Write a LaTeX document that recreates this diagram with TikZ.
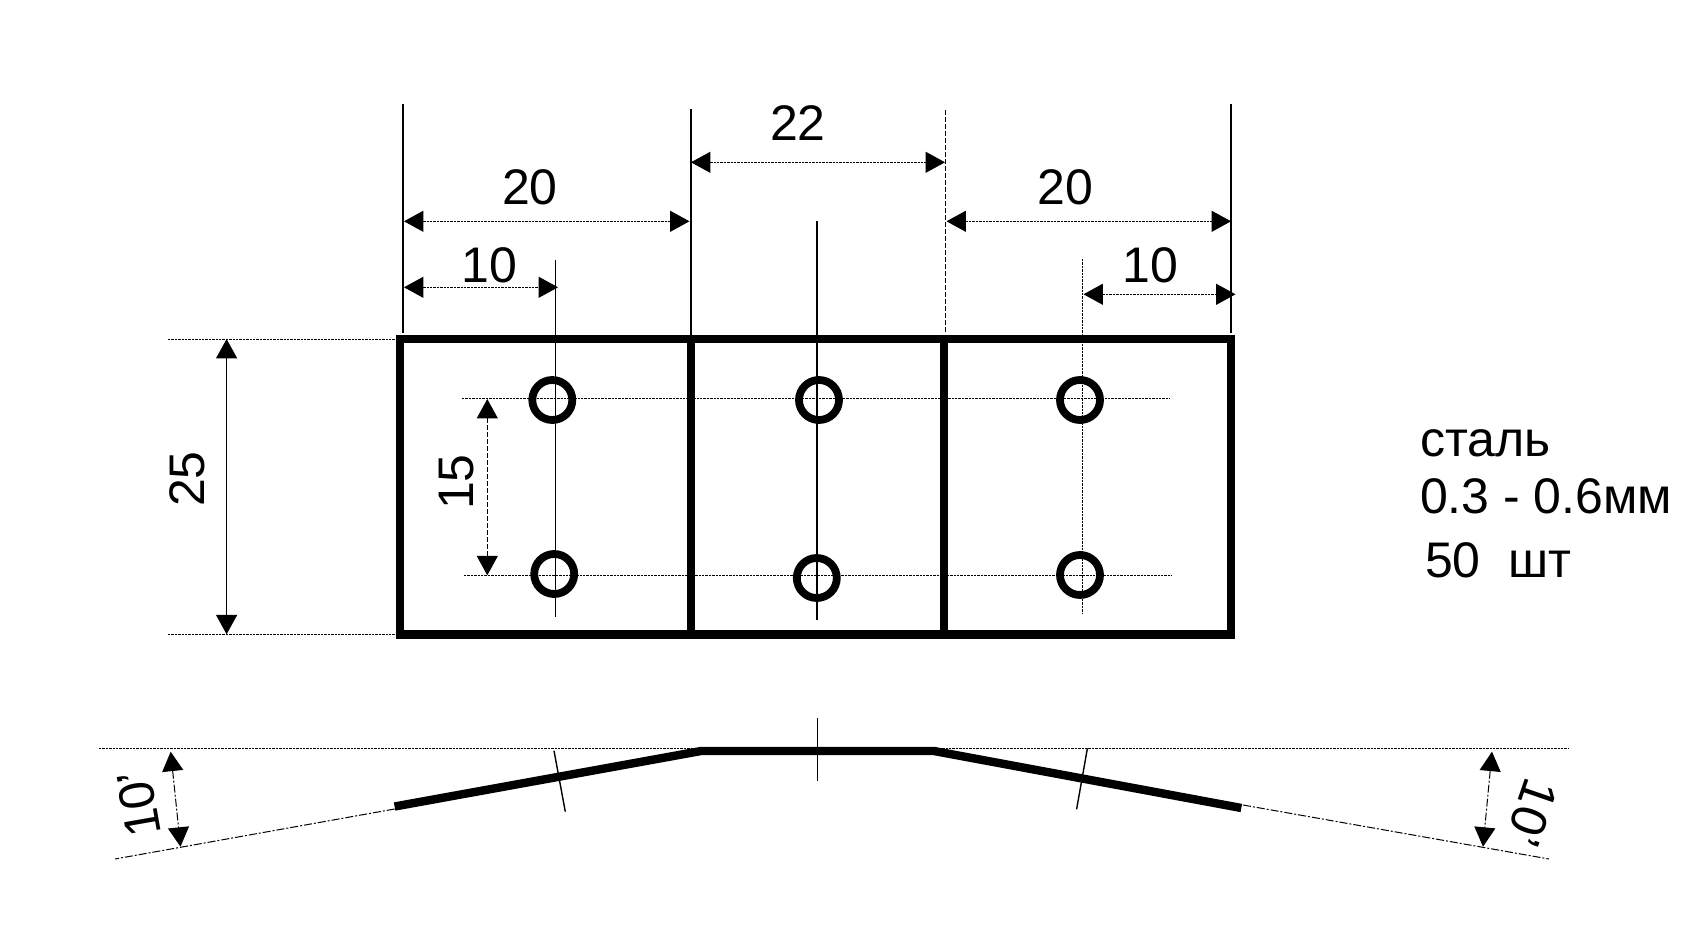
\documentclass[tikz,border=0pt]{standalone}
\usepackage{fontspec}
\setmainfont{Liberation Sans}
\usetikzlibrary{arrows.meta}
\tikzset{
  thinline/.style={line width=0.7pt,black},
  fineline/.style={line width=0.5pt,black,dash pattern=on 1.2pt off 0.5pt},
  dashline/.style={line width=0.5pt,black,dash pattern=on 2.5pt off 1pt},
  chainline/.style={line width=0.5pt,black,dash pattern=on 4pt off 1pt on 1pt off 1pt},
  heavy/.style={line width=4.3pt,black,line join=miter},
  dimtips/.style={{Triangle[length=9.7pt,width=10.5pt]}-{Triangle[length=9.7pt,width=10.5pt]}},
  hole/.style={circle,draw=black,line width=3.9pt,minimum size=20pt,inner sep=0pt,outer sep=0pt},
  lbl/.style={inner sep=0pt,outer sep=0pt,font=\fontsize{25}{30}\selectfont},
  note/.style={inner sep=0pt,outer sep=0pt,anchor=base west,font=\fontsize{25}{30}\selectfont},
}
\begin{document}
\begin{tikzpicture}[x=0.5pt,y=-0.5pt]
\useasboundingbox (0,0) rectangle (1699,931);
% key points of the plate
\coordinate (TL) at (400,339);
\coordinate (TR) at (1231,339);
\coordinate (BL) at (400,634.5);
\coordinate (BR) at (1231,634.5);
\coordinate (D1T) at (691,339);
\coordinate (D1B) at (691,634.5);
\coordinate (D2T) at (944,339);
\coordinate (D2B) at (944,634.5);
% extension lines
\draw[thinline] (403,104) -- (403,333);
\draw[thinline] (691,109) -- (691,335);
\draw[dashline] (945.5,110) -- (945.5,333);
\draw[thinline] (1231,104) -- (1231,333);
\draw[fineline] (168,339) -- (395,339);
\draw[fineline] (168,634.5) -- (395,634.5);
% centre lines
\draw[thinline] (555.6,260) -- (555.6,617);
\draw[thinline] (817,221) -- (817,620);
\draw[fineline] (1082,259) -- (1082,614);
\draw[fineline] (462,398.3) -- (1170,398.3);
\draw[fineline] (464,575.3) -- (1171.5,575.3);
% plate
\draw[heavy] (TL) rectangle (BR);
\draw[heavy] (D1T) -- (D1B);
\draw[heavy] (D2T) -- (D2B);
% holes
\node[hole] (h1) at (552.3,400) {};
\node[hole] (h2) at (819,400) {};
\node[hole] (h3) at (1080,400) {};
\node[hole] (h4) at (554.2,574) {};
\node[hole] (h5) at (816.8,578) {};
\node[hole] (h6) at (1080,575) {};
% horizontal dimensions
\draw[fineline,dimtips] (691,162.3) -- (945,162.3);
\draw[fineline,dimtips] (404,221.3) -- (689.5,221.3);
\draw[fineline,dimtips] (946.5,221.3) -- (1231,221.3);
\draw[fineline,dimtips] (404,287.3) -- (558,287.3);
\draw[fineline,dimtips] (1083.5,294.3) -- (1235.5,294.3);
% vertical dimensions
\draw[thinline,dimtips] (226.6,339) -- (226.6,634.3);
\draw[dashline,dimtips] (487.3,399) -- (487.3,575.3);
% labels
\node[lbl] (l22) at (798,123.5) {22};
\node[lbl] (l20a) at (530,187) {20};
\node[lbl] (l20b) at (1065,187) {20};
\node[lbl] (l10a) at (489.5,265) {10};
\node[lbl] (l10b) at (1150.5,265) {10};
\node[lbl,rotate=90] (l25) at (187,479) {25};
\node[lbl,rotate=90] (l15) at (457,482) {15};
\node[note] (n1) at (1420,456.7) {сталь};
\node[note] (n2) at (1420,513) {0.3 - 0.6мм};
\node[note] (n3) at (1425,577.7) {50\hspace{0.55em}шт};
% side view
\draw[fineline] (99,748.3) -- (1569,748.3);
\draw[chainline] (394.6,809) -- (115,859);
\draw[chainline] (1243,805) -- (1549,859);
\draw[line width=4.2pt,black,line join=round] (394.6,806.5) -- (701,751) -- (934,751) -- (1241.3,808);
\draw[thinline] (817.4,718.3) -- (817.4,781);
\draw[thinline] (554,750.7) -- (565.3,811.7);
\draw[thinline] (1087.4,748.3) -- (1076.6,809.3);
\draw[chainline,dimtips] (170.7,751.7) -- (180.5,846.7);
\draw[chainline,dimtips] (1492,751.7) -- (1483,846.7);
\node[lbl,rotate=100] (la) at (139,804) {10’};
\node[lbl,rotate=-109] (lb) at (1532,813) {10’};
\end{tikzpicture}
\end{document}
